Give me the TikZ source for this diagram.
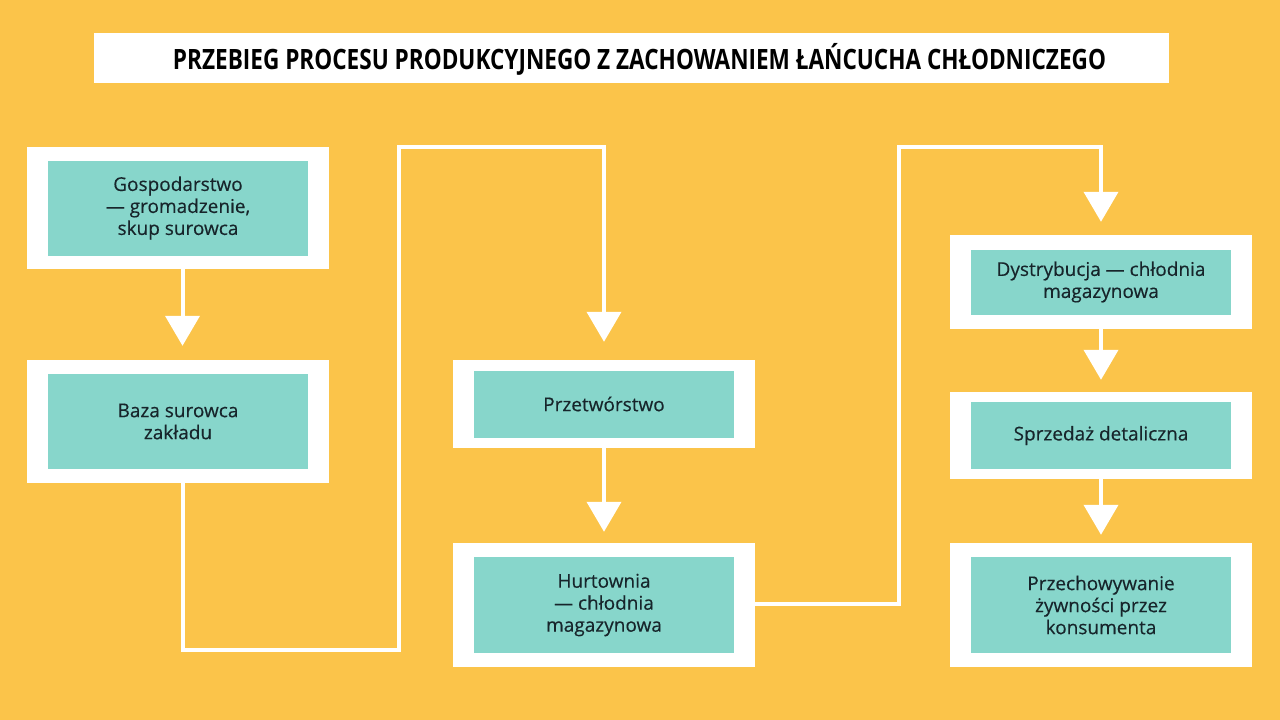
\documentclass[tikz,border=0pt]{standalone}
\usepackage{fontspec}
\setmainfont{Open Sans}
\newfontfamily\bodyfont[FakeBold=0.3]{Open Sans}
\usetikzlibrary{arrows.meta}
\definecolor{bgorange}{HTML}{FBC44A}
\definecolor{tealbox}{HTML}{87D6CB}
\definecolor{txtdark}{HTML}{17252B}
\tikzset{
  outerbox/.style={fill=white, draw=none, minimum width=302pt, inner sep=0pt},
  innerbox/.style={fill=tealbox, draw=none, minimum width=260pt, inner sep=0pt,
    align=center, text=txtdark, font=\bodyfont\fontsize{19}{22}\selectfont},
  flow/.style={draw=white, line width=4pt, line join=miter,
    -{Triangle[width=34pt,length=30pt]}},
}
\begin{document}
\begin{tikzpicture}[x=1pt,y=-1pt]
\fill[bgorange] (0,0) rectangle (1280,720);
\useasboundingbox (0,0) rectangle (1280,720);

% title
\node[fill=white, minimum width=1075pt, minimum height=50pt, inner sep=0pt] (title) at (631.5,58) {};
\node[anchor=base, inner sep=0pt, text=black] (titletext) at (639.5,69)
  {\resizebox{933pt}{\height}{\fontsize{28}{30}\selectfont\bfseries PRZEBIEG PROCESU PRODUKCYJNEGO Z ZACHOWANIEM ŁAŃCUCHA CHŁODNICZEGO}};

% outer boxes
\node[outerbox, minimum height=122pt] (o1) at (178,208) {};
\node[outerbox, minimum height=123pt] (o2) at (178,421.5) {};
\node[outerbox, minimum height=88pt]  (o3) at (604,404) {};
\node[outerbox, minimum height=124pt] (o4) at (604,605) {};
\node[outerbox, minimum height=94pt]  (o5) at (1101,282) {};
\node[outerbox, minimum height=87pt]  (o6) at (1101,435.5) {};
\node[outerbox, minimum height=124pt] (o7) at (1101,605) {};

% inner boxes
\node[innerbox, minimum height=95pt] (b1) at (o1.center) {Gospodarstwo\\— gromadzenie,\\skup surowca};
\node[innerbox, minimum height=95pt] (b2) at (o2.center) {Baza surowca\\zakładu};
\node[innerbox, minimum height=67pt] (b3) at (o3.center) {Przetwórstwo};
\node[innerbox, minimum height=96pt] (b4) at (o4.center) {Hurtownia\\— chłodnia\\magazynowa};
\node[innerbox, minimum height=65pt] (b5) at (o5.center) {Dystrybucja — chłodnia\\magazynowa};
\node[innerbox, minimum height=67pt] (b6) at (o6.center) {Sprzedaż detaliczna};
\node[innerbox, minimum height=96pt] (b7) at (o7.center) {Przechowywanie\\żywności przez\\konsumenta};

% route coordinates
\coordinate (r1) at (399,650);
\coordinate (r2) at (399,147);
\coordinate (r3) at (899,604);
\coordinate (r4) at (899,147);

% connectors
\draw[flow, shorten >=14pt] ([xshift=4.5pt]o1.south) -- ([xshift=4.5pt]o2.north);
\draw[flow, shorten >=18pt] ([xshift=4.5pt]o2.south) -- ([xshift=4.5pt]o2.south |- r1) -- (r1) -- (r2) -- (o3.north |- r2) -- (o3.north);
\draw[flow, shorten >=11pt] (o3.south) -- (o4.north);
\draw[flow, shorten >=13pt] (o4.east |- r3) -- (r3) -- (r4) -- (o5.north |- r4) -- (o5.north);
\draw[flow, shorten >=12pt] (o5.south) -- (o6.north);
\draw[flow, shorten >=8pt] (o6.south) -- (o7.north);
\end{tikzpicture}
\end{document}
